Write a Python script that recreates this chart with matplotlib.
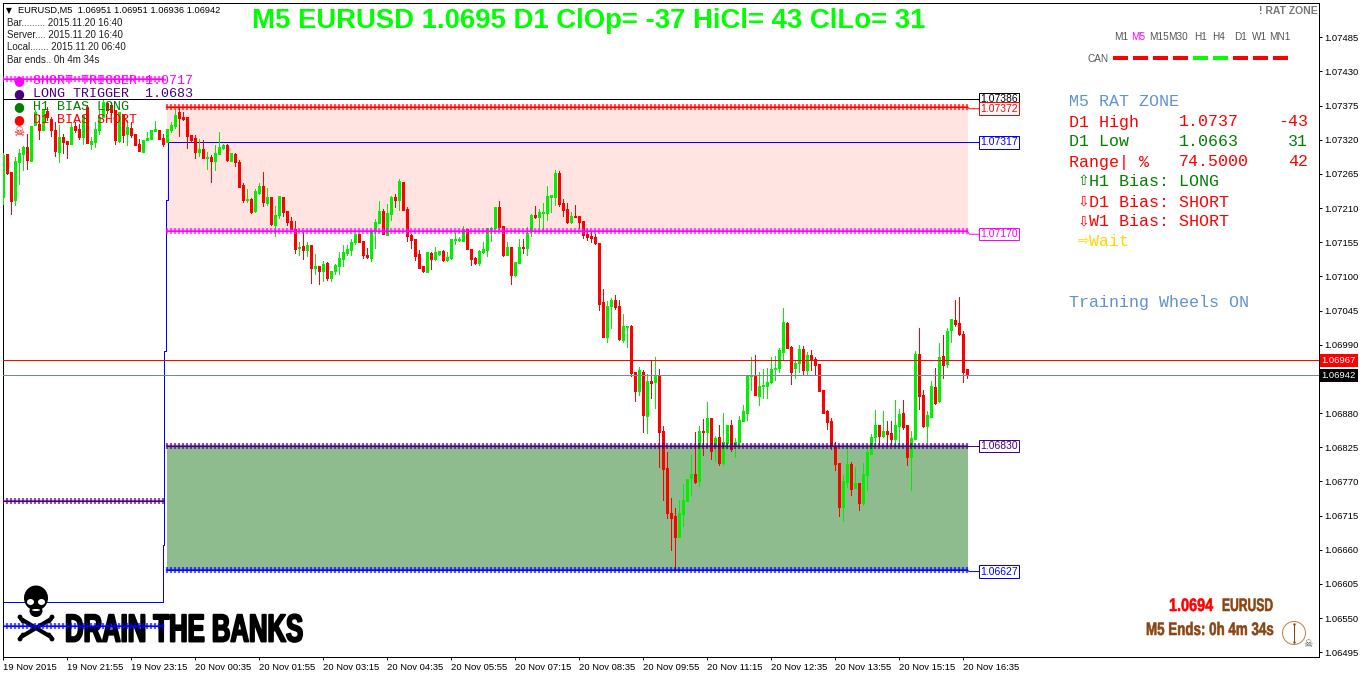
import numpy as np
import matplotlib
matplotlib.use('Agg')
import matplotlib.pyplot as plt
import matplotlib.patheffects as pe
from matplotlib.lines import Line2D
from matplotlib.patches import Circle, Ellipse
from matplotlib.transforms import Affine2D, IdentityTransform

W, H = 1362, 675

# EURUSD M5 bars, in points (1e-5)
opens = [
    107228, 107297, 107268, 107223, 107284, 107297, 107308, 107286, 107344, 107346, 107335, 107366,
    107354, 107335, 107301, 107325, 107318, 107314, 107342, 107338, 107325, 107372, 107313, 107317,
    107336, 107357, 107380, 107376, 107368, 107318, 107360, 107329, 107339, 107329, 107313, 107301,
    107319, 107322, 107334, 107336, 107323, 107316, 107335, 107342, 107365, 107357, 107356, 107328,
    107323, 107300, 107305, 107291, 107293, 107286, 107297, 107307, 107312, 107286, 107297, 107284,
    107247, 107223, 107225, 107205, 107235, 107246, 107218, 107228, 107183, 107199, 107228, 107205,
    107189, 107176, 107146, 107149, 107142, 107151, 107114, 107117, 107109, 107122, 107097, 107109,
    107117, 107128, 107138, 107142, 107155, 107168, 107157, 107134, 107130, 107175, 107186, 107205,
    107167, 107200, 107228, 107223, 107252, 107208, 107167, 107160, 107136, 107117, 107107, 107138,
    107128, 107136, 107141, 107126, 107130, 107159, 107159, 107157, 107176, 107144, 107130, 107121,
    107139, 107142, 107176, 107178, 107212, 107181, 107134, 107147, 107102, 107121, 107148, 107146,
    107175, 107199, 107196, 107202, 107202, 107228, 107228, 107266, 107218, 107208, 107187, 107197,
    107197, 107189, 107168, 107165, 107163, 107154, 107059, 107003, 107052, 107062, 107052, 106997,
    107018, 107020, 106946, 106915, 106947, 106875, 106931, 106930, 106941, 106851, 106791, 106720,
    106714, 106680, 106717, 106738, 106775, 106782, 106770, 106852, 106849, 106872, 106827, 106841,
    106799, 106832, 106861, 106827, 106833, 106867, 106881, 106939, 106941, 106907, 106923, 106923,
    106930, 106951, 106952, 106978, 107025, 106986, 106952, 106960, 106983, 106949, 106973, 106967,
    106959, 106918, 106883, 106867, 106825, 106799, 106729, 106769, 106798, 106759, 106767, 106735,
    106780, 106815, 106841, 106861, 106843, 106852, 106848, 106838, 106859, 106880, 106861, 106809,
    106838, 106975, 106909, 106859, 106873, 106922, 106899, 106972, 106959, 107014, 107030, 107025,
    107007, 106951]
highs = [
    107299, 107297, 107268, 107293, 107305, 107310, 107330, 107343, 107368, 107360, 107368, 107373,
    107357, 107349, 107344, 107330, 107318, 107349, 107349, 107346, 107360, 107376, 107325, 107348,
    107368, 107384, 107381, 107381, 107368, 107364, 107360, 107352, 107349, 107330, 107321, 107320,
    107333, 107336, 107350, 107336, 107330, 107337, 107348, 107368, 107372, 107365, 107356, 107328,
    107328, 107321, 107320, 107301, 107295, 107312, 107332, 107314, 107313, 107298, 107298, 107288,
    107250, 107241, 107226, 107241, 107250, 107268, 107242, 107228, 107213, 107229, 107228, 107205,
    107196, 107189, 107155, 107171, 107155, 107151, 107136, 107117, 107125, 107123, 107109, 107120,
    107139, 107151, 107150, 107161, 107168, 107168, 107157, 107146, 107175, 107192, 107221, 107208,
    107216, 107229, 107233, 107257, 107252, 107212, 107168, 107160, 107142, 107117, 107139, 107139,
    107147, 107141, 107142, 107139, 107160, 107170, 107163, 107181, 107176, 107144, 107131, 107142,
    107155, 107178, 107179, 107212, 107221, 107181, 107155, 107147, 107123, 107160, 107160, 107179,
    107200, 107213, 107208, 107218, 107245, 107231, 107271, 107270, 107224, 107218, 107204, 107215,
    107197, 107189, 107176, 107173, 107168, 107154, 107080, 107060, 107065, 107070, 107062, 107039,
    107020, 107022, 106946, 106954, 106949, 106943, 106964, 106970, 106951, 106859, 106817, 106743,
    106727, 106741, 106766, 106774, 106812, 106849, 106859, 106870, 106898, 106872, 106844, 106861,
    106880, 106861, 106869, 106840, 106875, 106893, 106941, 106970, 106973, 106947, 106951, 106952,
    106970, 106972, 106985, 107049, 107026, 106988, 106965, 106989, 106988, 106978, 106981, 106970,
    106959, 106918, 106885, 106872, 106833, 106799, 106780, 106832, 106801, 106793, 106767, 106799,
    106827, 106846, 106885, 106861, 106883, 106867, 106867, 106901, 106886, 106901, 106861, 106852,
    106980, 107017, 106917, 106883, 106931, 106952, 106993, 107005, 107017, 107031, 107062, 107067,
    107013, 106951]
lows = [
    107217, 107265, 107200, 107215, 107249, 107272, 107273, 107286, 107344, 107321, 107335, 107352,
    107326, 107294, 107285, 107299, 107290, 107314, 107333, 107321, 107314, 107315, 107305, 107309,
    107330, 107357, 107363, 107360, 107314, 107316, 107317, 107312, 107324, 107312, 107302, 107300,
    107319, 107321, 107334, 107321, 107310, 107316, 107333, 107339, 107326, 107352, 107307, 107317,
    107291, 107294, 107291, 107273, 107252, 107272, 107297, 107305, 107286, 107286, 107278, 107244,
    107220, 107220, 107202, 107204, 107233, 107213, 107215, 107183, 107165, 107194, 107197, 107183,
    107176, 107138, 107134, 107128, 107133, 107089, 107104, 107088, 107093, 107094, 107093, 107104,
    107104, 107117, 107134, 107134, 107152, 107155, 107130, 107130, 107125, 107146, 107186, 107168,
    107167, 107191, 107212, 107207, 107207, 107157, 107146, 107126, 107113, 107107, 107107, 107112,
    107126, 107134, 107125, 107125, 107128, 107152, 107157, 107157, 107144, 107118, 107120, 107118,
    107138, 107133, 107157, 107178, 107176, 107133, 107134, 107088, 107101, 107121, 107138, 107134,
    107165, 107194, 107176, 107175, 107191, 107204, 107215, 107213, 107197, 107186, 107186, 107196,
    107178, 107162, 107158, 107155, 107152, 107046, 107003, 106995, 107017, 107047, 106997, 106994,
    106986, 106939, 106899, 106910, 106849, 106848, 106904, 106888, 106793, 106740, 106711, 106659,
    106627, 106680, 106698, 106738, 106748, 106767, 106762, 106812, 106826, 106806, 106803, 106796,
    106796, 106822, 106819, 106809, 106833, 106867, 106869, 106918, 106909, 106893, 106904, 106904,
    106928, 106933, 106947, 106967, 106985, 106927, 106936, 106946, 106943, 106941, 106949, 106941,
    106915, 106880, 106854, 106822, 106788, 106714, 106706, 106761, 106748, 106759, 106724, 106732,
    106756, 106815, 106827, 106827, 106841, 106827, 106827, 106827, 106827, 106854, 106796, 106756,
    106838, 106886, 106857, 106833, 106873, 106894, 106898, 106936, 106954, 106994, 107020, 107005,
    106930, 106936]
closes = [
    107295, 107266, 107222, 107286, 107298, 107309, 107287, 107343, 107365, 107336, 107368, 107356,
    107335, 107302, 107325, 107316, 107314, 107340, 107336, 107324, 107360, 107315, 107318, 107337,
    107357, 107381, 107368, 107365, 107319, 107364, 107327, 107341, 107328, 107312, 107302, 107320,
    107323, 107336, 107337, 107321, 107314, 107337, 107344, 107360, 107355, 107353, 107326, 107319,
    107301, 107305, 107291, 107292, 107286, 107298, 107308, 107312, 107287, 107298, 107285, 107244,
    107223, 107225, 107204, 107237, 107246, 107220, 107228, 107184, 107199, 107229, 107204, 107188,
    107176, 107144, 107147, 107142, 107151, 107114, 107117, 107109, 107120, 107097, 107109, 107118,
    107130, 107139, 107144, 107155, 107168, 107156, 107134, 107131, 107175, 107187, 107205, 107168,
    107202, 107228, 107223, 107253, 107207, 107165, 107158, 107133, 107113, 107109, 107139, 107128,
    107139, 107141, 107126, 107131, 107160, 107160, 107160, 107176, 107144, 107128, 107121, 107141,
    107144, 107178, 107178, 107212, 107179, 107134, 107147, 107102, 107123, 107147, 107146, 107170,
    107199, 107196, 107204, 107204, 107229, 107231, 107266, 107216, 107207, 107187, 107197, 107196,
    107187, 107167, 107163, 107162, 107154, 107055, 107003, 107052, 107062, 107051, 106999, 107020,
    107020, 106944, 106915, 106949, 106877, 106931, 106928, 106941, 106849, 106790, 106719, 106712,
    106680, 106719, 106740, 106774, 106782, 106769, 106852, 106849, 106872, 106819, 106840, 106799,
    106833, 106861, 106822, 106833, 106869, 106883, 106941, 106941, 106909, 106923, 106925, 106930,
    106951, 106952, 106981, 107026, 106985, 106947, 106960, 106983, 106949, 106973, 106965, 106957,
    106915, 106880, 106865, 106827, 106798, 106729, 106770, 106798, 106758, 106767, 106735, 106782,
    106817, 106841, 106861, 106843, 106852, 106846, 106838, 106861, 106878, 106857, 106809, 106840,
    106976, 106907, 106859, 106877, 106923, 106896, 106970, 106957, 107012, 107031, 107023, 107007,
    106947, 106942]

# price levels, where they sit on the picture
day_high = 1.07385
zone_top = 1.07373
mid_level = 1.07316
zone_bottom = 1.07173
long_trigger = 1.06827
day_low = 1.06627
bid_level = 1.06941
ask_level = 1.06965
prev_short = 1.07418
prev_long = 1.06738
prev_low = 1.06537

# stepped trend line, bar position against price
step_x = [0, 40, 40, 40.25, 40.25, 40.75, 40.75, 41.1, 41.1, 244]
step_y = [1.06576, 1.06576, 1.06668, 1.06668, 1.06980, 1.06980, 1.07223, 1.07223, 1.07316, 1.07316]

ytick_values = [1.07485, 1.07430, 1.07375, 1.07320, 1.07265, 1.07210, 1.07155, 1.07100, 1.07045, 1.06990,
                1.06935, 1.06880, 1.06825, 1.06770, 1.06715, 1.06660, 1.06605, 1.06550, 1.06495]
xtick_labels = ['19 Nov 2015', '19 Nov 21:55', '19 Nov 23:15', '20 Nov 00:35', '20 Nov 01:55', '20 Nov 03:15',
                '20 Nov 04:35', '20 Nov 05:55', '20 Nov 07:15', '20 Nov 08:35', '20 Nov 09:55', '20 Nov 11:15',
                '20 Nov 12:35', '20 Nov 13:55', '20 Nov 15:15', '20 Nov 16:35']

tf_labels = ['M1', 'M5', 'M15', 'M30', 'H1', 'H4', 'D1', 'W1', 'MN1']
tf_colors = ['red', 'red', 'red', 'red', 'lime', 'lime', 'red', 'red', 'red']

o = np.array(opens) / 1e5
h = np.array(highs) / 1e5
l = np.array(lows) / 1e5
c = np.array(closes) / 1e5
x = np.arange(len(o))
up = c >= o

GREEN = '#00f000'
PX = 0.72  # one pixel in points at dpi 100


class Squeeze(pe.AbstractPathEffect):
    # no condensed face installed, so narrow the glyphs when drawing
    def __init__(self, sx, stroke=0.0):
        super().__init__()
        self.sx = sx
        self.stroke = stroke

    def draw_path(self, renderer, gc, tpath, affine, rgbFace=None):
        gc0 = renderer.new_gc()
        gc0.copy_properties(gc)
        gc0.set_foreground(rgbFace)
        gc0.set_linewidth(self.stroke)
        renderer.draw_path(gc0, tpath, Affine2D().scale(self.sx, 1) + affine, rgbFace)
        gc0.restore()


fig = plt.figure(figsize=(W / 100, H / 100), dpi=100)
ax = fig.add_axes([2.5 / W, 1 - 657.3 / H, 1316.8 / W, 654.8 / H])
ax.set_xlim(-0.2, 329)
ax.set_ylim(1.06487, 1.07541)

# zones
zone_x = [40.85, 241.2]
ax.fill_between(zone_x, zone_bottom, zone_top, color='#FFE4E1', lw=0, zorder=1)
ax.fill_between(zone_x, day_low, long_trigger, color='#8FBC8F', lw=0, zorder=1)

# full width lines
ax.plot(step_x, step_y, color='#0000ff', lw=PX, zorder=2)
ax.plot([-0.2, 244], [day_high, day_high], color='black', lw=PX, zorder=2)
ax.axhline(ask_level, color='#ff0000', lw=PX, antialiased=False, zorder=5)
ax.axhline(bid_level, color='#778899', lw=PX, antialiased=False, zorder=5)

# candles
ax.vlines(x[up], l[up], h[up], color=GREEN, lw=PX, antialiased=False, zorder=3)
ax.vlines(x[~up], l[~up], h[~up], color='red', lw=PX, antialiased=False, zorder=3)
ax.bar(x[up], (c - o)[up], bottom=o[up], width=0.5, color=GREEN, edgecolor=GREEN, lw=PX, antialiased=False, zorder=3)
ax.bar(x[~up], (o - c)[~up], bottom=c[~up], width=0.5, color='red', edgecolor='red', lw=PX, antialiased=False, zorder=3)


def dotted_level(x0, x1, level, color):
    xs = np.arange(x0, x1)
    ys = np.full(len(xs), level)
    ax.plot(xs, ys, color=color, lw=1.6, alpha=0.6, zorder=4)
    ax.plot(xs, ys, ls='none', marker='|', ms=3.8, mew=1.6, color=color, alpha=0.65, zorder=4)
    ax.plot(xs, ys, color=color, lw=PX, zorder=4)


dotted_level(41, 242, zone_top, 'red')
dotted_level(41, 242, zone_bottom, '#ff00ff')
dotted_level(41, 242, long_trigger, '#4B0082')
dotted_level(41, 242, day_low, '#0000ff')
dotted_level(0, 41, prev_short, '#ff00ff')
dotted_level(0, 41, prev_long, '#4B0082')
dotted_level(0, 41, prev_low, '#0000ff')

# connectors and price boxes
box_rows = [(day_high, '1.07386', 'black', 0), (zone_top, '1.07372', 'red', 0.00003), (mid_level, '1.07317', '#0000ff', 0),
            (zone_bottom, '1.07170', '#ff00ff', 0.00005), (long_trigger, '1.06830', '#4B0082', 0), (day_low, '1.06627', '#0000ff', 0.00002)]
for level, txt, col, shift in box_rows:
    ax.plot([241, 241.5, 244], [level, level - shift, level - shift], color=col, lw=PX, zorder=4)
    ax.text(244.3, level - shift, txt, color=col, fontsize=7.5, family='Liberation Sans', ha='left', va='center', zorder=6,
            bbox=dict(boxstyle='square,pad=0.12', fc='white', ec=col, lw=PX))

# axes, MT4 style
for s in ax.spines.values():
    s.set_linewidth(PX)
ax.yaxis.tick_right()
ax.set_yticks(ytick_values)
ax.set_yticklabels(['%.5f' % v for v in ytick_values], family='Liberation Sans', fontsize=6.8)
ax.set_xticks(x[::16])
ax.set_xticklabels(xtick_labels, family='Liberation Sans', fontsize=6.8, ha='left')
ax.tick_params(axis='both', length=2.2, width=PX, pad=1.3)
ax.tick_params(axis='x', pad=2)

ax.text(1.0017, ask_level, '1.06967', transform=ax.get_yaxis_transform(), color='white', fontsize=6.8, family='Liberation Sans', va='center',
        bbox=dict(boxstyle='square,pad=0.2', fc='red', ec='red', lw=0), zorder=8, clip_on=False)
ax.text(1.0017, bid_level, '1.06942', transform=ax.get_yaxis_transform(), color='white', fontsize=6.8, family='Liberation Sans', va='center',
        bbox=dict(boxstyle='square,pad=0.2', fc='black', ec='black', lw=0), zorder=8, clip_on=False)


def ptext(px, py, s, **kw):
    kw.setdefault('va', 'center')
    kw.setdefault('zorder', 10)
    return fig.text(px / W, 1 - py / H, s, **kw)


def screen(px, py):
    return px, H - py


# title
ptext(589, 21.5, 'M5 EURUSD 1.0695 D1 ClOp= -37 HiCl= 43 ClLo= 31', color='#00ff00', fontsize=19.8, family='Liberation Sans',
      weight='bold', ha='center')

# header block
SM = dict(family='Liberation Sans', fontsize=7, color='#202020')
ptext(6, 10.5, '\u25bc', family='DejaVu Sans', fontsize=5.5, color='black')
ptext(18, 10.5, 'EURUSD,M5  1.06951 1.06951 1.06936 1.06942', family='Liberation Sans', fontsize=6.7, color='black')
ptext(7, 23.5, 'Bar......... 2015.11.20 16:40', **SM)
ptext(7, 35.5, 'Server.... 2015.11.20 16:40', **SM)
ptext(7, 47.5, 'Local....... 2015.11.20 06:40', **SM)
ptext(7, 60, 'Bar ends.. 0h 4m 34s', **SM)

# left legend
MONO = dict(family='Liberation Mono', fontsize=9.6)
legend_rows = [(81, 'SHORT TRIGGER 1.0717', '#ff00ff'), (94, 'LONG TRIGGER  1.0683', '#4B0082'),
               (107, 'H1 BIAS LONG', '#008000'), (120, 'D1 BIAS SHORT', 'red')]
for py, txt, col in legend_rows:
    ptext(18.5, py, '\u25cf', family='DejaVu Sans', fontsize=9, color=col, ha='center')
    ptext(33, py, txt, color=col, **MONO)
ptext(18.5, 133, '\u2620', family='DejaVu Sans', fontsize=9, color='red', ha='center')

# right panel
PANEL = dict(family='Liberation Mono', fontsize=12)
STEEL = '#5f93cf'
ptext(1069, 102, 'M5 RAT ZONE', color=STEEL, **PANEL)
panel_rows = [(122, 'D1 High', '1.0737', '-43', 'red'), (142, 'D1 Low', '1.0663', '31', '#008000'),
              (162, 'Range| %', '74.5000', '42', 'red')]
for py, a, b, d, col in panel_rows:
    ptext(1069, py, a, color=col, **PANEL)
    ptext(1179, py, b, color=col, **PANEL)
    ptext(1308, py, d, color=col, ha='right', **PANEL)
bias_rows = [(182, '\u21e7', 'H1 Bias: LONG', '#008000'), (202, '\u21e9', 'D1 Bias: SHORT', 'red'),
             (222, '\u21e9', 'W1 Bias: SHORT', 'red'), (242, '\u21e8', 'Wait', '#FFD700')]
for py, arrow, txt, col in bias_rows:
    ptext(1083, py - 1, arrow, family='DejaVu Sans', fontsize=10, color=col, ha='center')
    ptext(1089, py, txt, color=col, **PANEL)
ptext(1069, 302, 'Training Wheels ON', color=STEEL, **PANEL)

# timeframe row
ptext(1318, 11, '! RAT ZONE', family='Liberation Sans', fontsize=7.5, weight='bold', color='#777777', ha='right')
tf_cx = 1121 + np.array([0, 17.5, 38, 57, 79.7, 98, 119.7, 139, 159])
for cx, lab in zip(tf_cx, tf_labels):
    ptext(cx, 36.5, lab, family='Liberation Sans', fontsize=7.2, ha='center', color='#ff00ff' if lab == 'M5' else '#555555')
ptext(1088, 58.5, 'CAN', family='Liberation Sans', fontsize=7.2, color='#555555')
for k, col in enumerate(tf_colors):
    x0 = 1112.5 + 20 * k
    fig.add_artist(Line2D([x0 / W, (x0 + 15) / W], [1 - 57.7 / H] * 2, color=col, lw=2.9, solid_capstyle='butt'))

# skull and bones under the lines
ident = IdentityTransform()
for p0, p1 in [((21, 619), (51, 637)), ((51, 619), (21, 637))]:
    ax.add_line(Line2D([p0[0], p1[0]], [H - p0[1], H - p1[1]], transform=ident, color='black', lw=3, solid_capstyle='round', zorder=2, clip_on=False))
for bx, by in [(20, 617), (23, 621), (52, 617), (49, 621), (20, 639), (23, 635), (52, 639), (49, 635)]:
    ax.add_patch(Circle(screen(bx, by), 2.4, transform=ident, fc='black', ec='none', zorder=2))
ax.add_patch(Ellipse(screen(36, 598), 24, 25, transform=ident, fc='black', ec='none', zorder=2))
ax.add_patch(Ellipse(screen(36, 611), 13, 12, transform=ident, fc='black', ec='none', zorder=2))
for ex in (30.5, 41.5):
    ax.add_patch(Ellipse(screen(ex, 602), 7, 6, transform=ident, fc='white', ec='none', zorder=2))
ax.add_patch(Ellipse(screen(36, 610), 8, 2, transform=ident, fc='white', ec='none', zorder=2))

ax.text(65 / W, 1 - 631.5 / H, 'DRAIN THE BANKS', transform=fig.transFigure, family='Liberation Sans', weight='bold', fontsize=28, color='black',
        va='center', zorder=3, clip_on=False, path_effects=[Squeeze(0.66, 1.4)])

# clock block
IMP = dict(family='Liberation Sans', weight='bold', fontsize=13)
BROWN = '#8B4513'
ptext(1169, 606.5, '1.0694', color='red', path_effects=[Squeeze(0.8, 0.4)], **IMP)
ptext(1222, 606.5, 'EURUSD', color=BROWN, path_effects=[Squeeze(0.67, 0.4)], **IMP)
ptext(1146, 630.5, 'M5 Ends: 0h 4m 34s', color=BROWN, path_effects=[Squeeze(0.74, 0.4)], **IMP)
fig.add_artist(Circle(screen(1294, 633), 11.5, transform=ident, fc='none', ec='#c08040', lw=PX))
fig.add_artist(Line2D([1294 / W, 1294 / W], [1 - 624 / H, 1 - 642 / H], color=BROWN, lw=PX, marker='.', ms=1.5))
ptext(1308, 644, '\u2620', family='DejaVu Sans', fontsize=7.5, color='#555555', ha='center')

fig.savefig('out.png', dpi=100)
